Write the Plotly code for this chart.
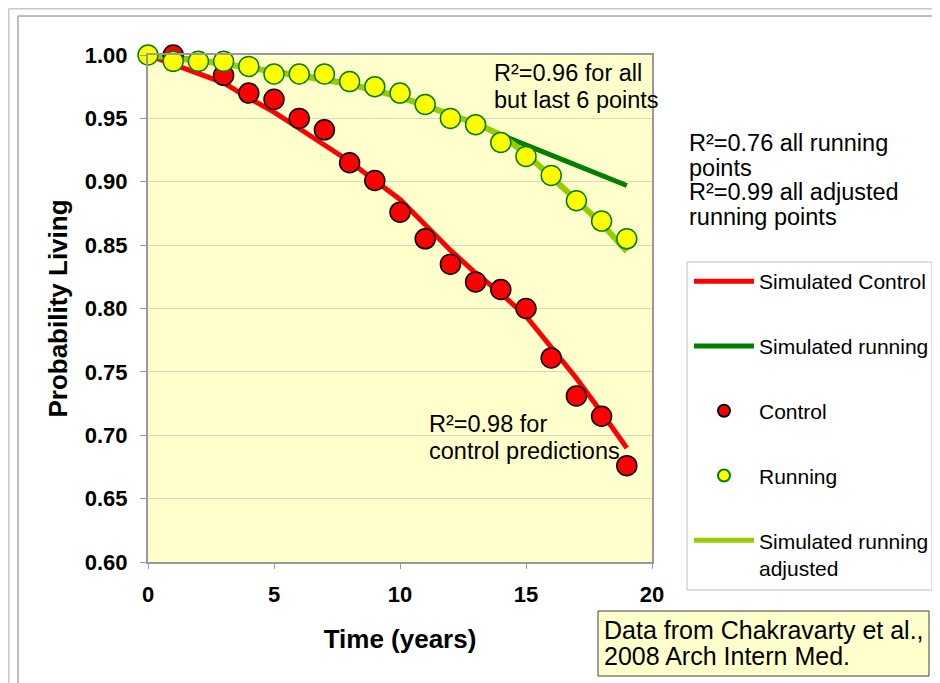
import plotly.graph_objects as go

# ---------------- data ----------------
years = list(range(20))

sim_control = [1.000, 0.993, 0.986, 0.978, 0.966, 0.955, 0.942, 0.929, 0.916, 0.901,
               0.886, 0.866, 0.846, 0.828, 0.812, 0.794, 0.770, 0.745, 0.718, 0.690]
sim_running = [1.000, 0.998, 0.996, 0.993, 0.990, 0.987, 0.984, 0.981, 0.977, 0.972,
               0.967, 0.960, 0.953, 0.946, 0.937, 0.929, 0.920, 0.912, 0.904, 0.897]
sim_running_adj = [1.000, 0.998, 0.996, 0.993, 0.990, 0.987, 0.984, 0.981, 0.977, 0.972,
                   0.967, 0.960, 0.953, 0.946, 0.937, 0.922, 0.904, 0.886, 0.867, 0.845]

control_years = [1, 3, 4, 5, 6, 7, 8, 9, 10, 11, 12, 13, 14, 15, 16, 17, 18, 19]
control_obs = [1.000, 0.984, 0.970, 0.965, 0.950, 0.941, 0.915, 0.901, 0.876, 0.855,
               0.835, 0.821, 0.815, 0.800, 0.761, 0.731, 0.715, 0.676]

running_years = list(range(20))
running_obs = [1.000, 0.995, 0.995, 0.995, 0.991, 0.985, 0.985, 0.985, 0.979, 0.975,
               0.970, 0.961, 0.950, 0.945, 0.931, 0.920, 0.905, 0.885, 0.869, 0.855]

x_ticks = [0, 5, 10, 15, 20]
y_ticks = [0.60, 0.65, 0.70, 0.75, 0.80, 0.85, 0.90, 0.95, 1.00]

# ---------------- layout helpers (page pixel -> paper) ----------------
W, H = 940, 683
OFF = 8  # default page body margin
L, R, T, B = 148 - OFF, 652 - OFF, 55 - OFF, 562 - OFF


def px(x):
    return (x - OFF - L) / (R - L)


def py(y):
    return (B - (y - OFF)) / (B - T)


FONT = "Liberation Sans, Arial, sans-serif"

fig = go.Figure()

fig.add_trace(go.Scatter(x=years, y=sim_control, mode="lines", name="Simulated Control",
                         line=dict(color="#FF0000", width=5), legendgroup="a", legendrank=1,
                         cliponaxis=False))
fig.add_trace(go.Scatter(x=years, y=sim_running, mode="lines", name="Simulated running",
                         line=dict(color="#008000", width=5), legendgroup="b", legendrank=2,
                         cliponaxis=False))
fig.add_trace(go.Scatter(x=years, y=sim_running_adj, mode="lines",
                         name="Simulated running<br>adjusted",
                         line=dict(color="#99CC00", width=6), legendgroup="e", legendrank=5,
                         cliponaxis=False))
fig.add_trace(go.Scatter(x=control_years, y=control_obs, mode="markers", name="Control",
                         marker=dict(color="#FF0000", size=20, line=dict(color="#000000", width=1.5)),
                         legendgroup="c", legendrank=3, cliponaxis=False))
fig.add_trace(go.Scatter(x=running_years, y=running_obs, mode="markers", name="Running",
                         marker=dict(color="#FFFF00", size=20, line=dict(color="#008000", width=1.5)),
                         legendgroup="d", legendrank=4, cliponaxis=False))

shapes = [
    # slide frame lines
    dict(type="line", xref="paper", yref="paper", x0=px(8.8), x1=px(960), y0=py(8.8), y1=py(8.8),
         line=dict(color="#C8C8C8", width=1.5)),
    dict(type="line", xref="paper", yref="paper", x0=px(8.8), x1=px(8.8), y0=py(8.8), y1=py(720),
         line=dict(color="#C8C8C8", width=1.5)),
    dict(type="line", xref="paper", yref="paper", x0=px(18), x1=px(960), y0=py(16), y1=py(16),
         line=dict(color="#A8A8A8", width=1.5)),
    dict(type="line", xref="paper", yref="paper", x0=px(18), x1=px(18), y0=py(16), y1=py(720),
         line=dict(color="#A8A8A8", width=1.5)),
    # legend box
    dict(type="rect", xref="paper", yref="paper", x0=px(687), x1=px(932), y0=py(262), y1=py(590),
         line=dict(color="#C0C0C0", width=1), fillcolor="white", layer="below"),
    # source box
    dict(type="rect", xref="paper", yref="paper", x0=px(598), x1=px(929), y0=py(611), y1=py(676),
         line=dict(color="#404040", width=1), fillcolor="#FFFFCC", layer="below"),
]

text_lines = [
    ("R²=0.96 for all", 492, 73, 23.5),
    ("but last 6 points", 492, 100, 23.5),
    ("R²=0.98 for", 427, 424, 23.5),
    ("control predictions", 427, 451, 23.5),
    ("R²=0.76 all running", 687, 143, 23.5),
    ("points", 687, 168, 23.5),
    ("R²=0.99 all adjusted", 687, 192, 23.5),
    ("running points", 687, 217, 23.5),
    ("Data from Chakravarty et al.,", 602, 630, 25),
    ("2008 Arch Intern Med.", 602, 656, 25),
]
annotations = [
    dict(text=t, x=px(x), y=py(y), xref="paper", yref="paper", xanchor="left", yanchor="middle",
         showarrow=False, font=dict(family=FONT, size=s, color="#000000"))
    for t, x, y, s in text_lines
]

fig.update_layout(
    width=W, height=H,
    margin=dict(l=L, r=W - R, t=T, b=H - B),
    paper_bgcolor="white",
    plot_bgcolor="#FFFFCC",
    font=dict(family=FONT, color="#000000"),
    shapes=shapes,
    annotations=annotations,
    showlegend=True,
    legend=dict(
        x=px(689), y=py(261), xanchor="left", yanchor="top",
        xref="paper", yref="paper",
        bgcolor="rgba(0,0,0,0)", borderwidth=0,
        font=dict(family=FONT, size=21, color="#000000"),
        itemwidth=60, itemsizing="constant", tracegroupgap=34.5, valign="top",
        traceorder="grouped",
    ),
    xaxis=dict(
        range=[0, 20], tickvals=x_ticks, ticktext=[str(v) for v in x_ticks],
        showgrid=False, zeroline=False,
        showline=True, linecolor="#999999", linewidth=2, mirror=True,
        ticks="outside", ticklen=5, tickcolor="#999999", tickwidth=1,
        tickfont=dict(family=FONT, size=22, color="#000000", weight="bold"),
        ticklabelstandoff=7,
        title=dict(text="<b>Time (years)</b>", font=dict(family=FONT, size=26, color="#000000"),
                   standoff=23),
    ),
    yaxis=dict(
        range=[0.60, 1.00], tickvals=y_ticks, ticktext=["%.2f" % v for v in y_ticks],
        showgrid=True, gridcolor="#D8D8C0", gridwidth=1, zeroline=False,
        showline=True, linecolor="#999999", linewidth=2, mirror=True,
        ticks="outside", ticklen=6, tickcolor="#999999", tickwidth=1,
        tickfont=dict(family=FONT, size=22, color="#000000", weight="bold"),
        ticklabelstandoff=8,
        title=dict(text="<b>Probability Living</b>", font=dict(family=FONT, size=26, color="#000000"),
                   standoff=10),
    ),
)

fig.write_html("out.html")
